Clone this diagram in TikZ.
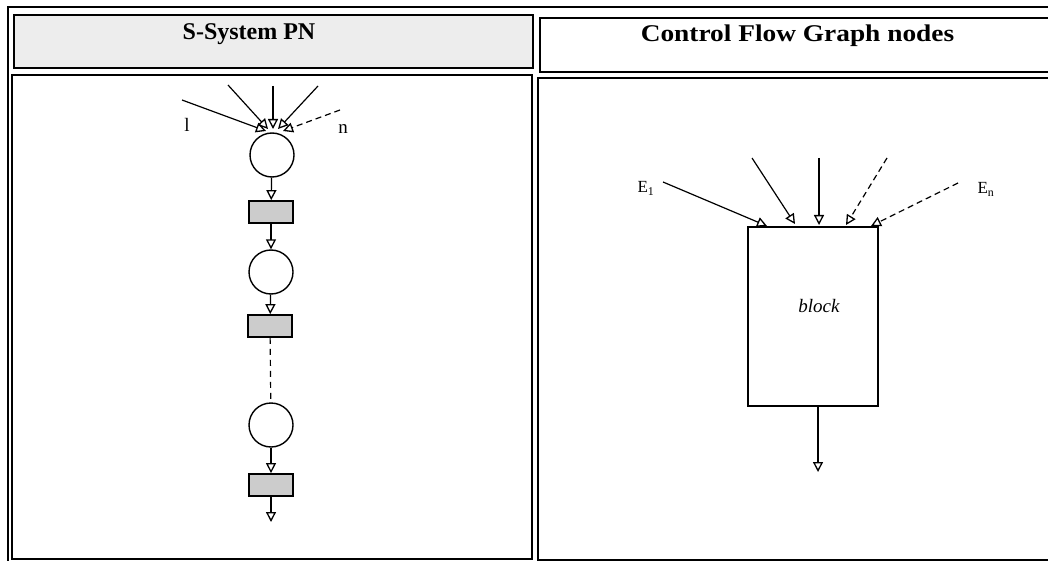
\documentclass[tikz,border=0pt]{standalone}
\usepackage{fontspec}
\setmainfont{Liberation Serif}
\usetikzlibrary{arrows.meta}
\begin{document}
\begin{tikzpicture}[x=1pt,y=-1pt,
  cell/.style={draw=black,line width=1.6pt,inner sep=0pt},
  place/.style={draw=black,line width=1.4pt,circle,minimum size=44pt,inner sep=0pt},
  trans/.style={draw=black,line width=1.8pt,fill=gray!40,minimum width=44pt,minimum height=22pt,inner sep=0pt},
  blockbox/.style={draw=black,line width=1.5pt,minimum width=130pt,minimum height=179pt,inner sep=0pt},
  hdrtext/.style={font=\fontsize{24}{28}\selectfont\bfseries,anchor=base,inner sep=0pt},
  lbl/.style={font=\fontsize{19}{22}\selectfont,anchor=base,inner sep=0pt},
  elbl/.style={font=\fontsize{17}{20}\selectfont,anchor=base,inner sep=0pt},
  arr/.style={line width=1.2pt,-{Triangle[open,length=10pt,width=10pt,line width=1.3pt]}},
  flow/.style={line width=1.2pt}
]
\useasboundingbox (0,0) rectangle (1048,561);
% table frame
\coordinate (ftl) at (8,7);
\coordinate (ftr) at (1048,7);
\coordinate (fbl) at (8,561);
\draw[line width=1.6pt] (fbl) -- (ftl) -- (ftr);
% header cells
\node[cell,fill=gray!14,minimum width=519pt,minimum height=53pt] (hL) at (273.5,41.5) {};
\node[cell,fill=white,minimum width=512pt,minimum height=54pt] (hR) at (796,45) {};
\node[hdrtext] (tL) at (249,40) {S-System PN};
\node[hdrtext] (tR) at (797.5,42) {\scalebox{1.14}[1]{Control Flow Graph nodes}};
% body cells
\node[cell,minimum width=520pt,minimum height=484pt] (bL) at (272,317) {};
\node[cell,minimum width=512pt,minimum height=482pt] (bR) at (794,319) {};

% ---- S-System PN ----
\node[place] (p1) at (272,155) {};
\node[trans] (t1) at (271,212) {};
\node[place] (p2) at (271,272) {};
\node[trans] (t2) at (270,326) {};
\node[place] (p3) at (271,425) {};
\node[trans] (t3) at (271,485) {};
\coordinate (out1) at (271,522);

\coordinate (s1) at (182,100);
\coordinate (s2) at (228,85);
\coordinate (s3) at (273,86);
\coordinate (s4) at (318,86);
\coordinate (s5) at (340,110);
\coordinate (e1) at (266,131);
\coordinate (e2) at (268,129);
\coordinate (e3) at (273,129);
\coordinate (e4) at (278,129);
\coordinate (e5) at (283,131);
\draw[arr] (s1) -- (e1);
\draw[arr] (s2) -- (e2);
\draw[arr] (s3) -- (e3);
\draw[arr] (s4) -- (e4);
\draw[arr,dashed,dash pattern=on 6pt off 4pt] (s5) -- (e5);
\node[lbl] (l1) at (187,132) {l};
\node[lbl] (ln) at (343,134) {n};

\draw[arr] (p1) -- (t1);
\draw[arr] (t1) -- (p2);
\draw[arr] (p2) -- (t2);
\draw[flow,dashed,dash pattern=on 6pt off 5pt] (t2) -- (p3);
\draw[arr] (p3) -- (t3);
\draw[arr] (t3) -- (out1);

% ---- Control Flow Graph nodes ----
\node[blockbox] (blk) at (813,316.5) {};
\node[font=\fontsize{19}{22}\selectfont\itshape,inner sep=0pt] (blbl) at (819,306) {block};
\coordinate (c1) at (663,182);
\coordinate (c2) at (752,158);
\coordinate (c3) at (819,158);
\coordinate (c4) at (887,158);
\coordinate (c5) at (958,183);
\coordinate (d1) at (767,226);
\coordinate (d2) at (795,224);
\coordinate (d3) at (819,225);
\coordinate (d4) at (846,225);
\coordinate (d5) at (871,226);
\draw[arr] (c1) -- (d1);
\draw[arr] (c2) -- (d2);
\draw[arr] (c3) -- (d3);
\draw[arr,dashed,dash pattern=on 6pt off 4pt] (c4) -- (d4);
\draw[arr,dashed,dash pattern=on 6pt off 4pt] (c5) -- (d5);
\node[elbl] (E1) at (646,193) {E\textsubscript{1}};
\node[elbl] (En) at (986,194) {E\textsubscript{n}};
\coordinate (bo) at (818,406);
\coordinate (out2) at (818,472);
\draw[arr] (bo) -- (out2);
\end{tikzpicture}
\end{document}
